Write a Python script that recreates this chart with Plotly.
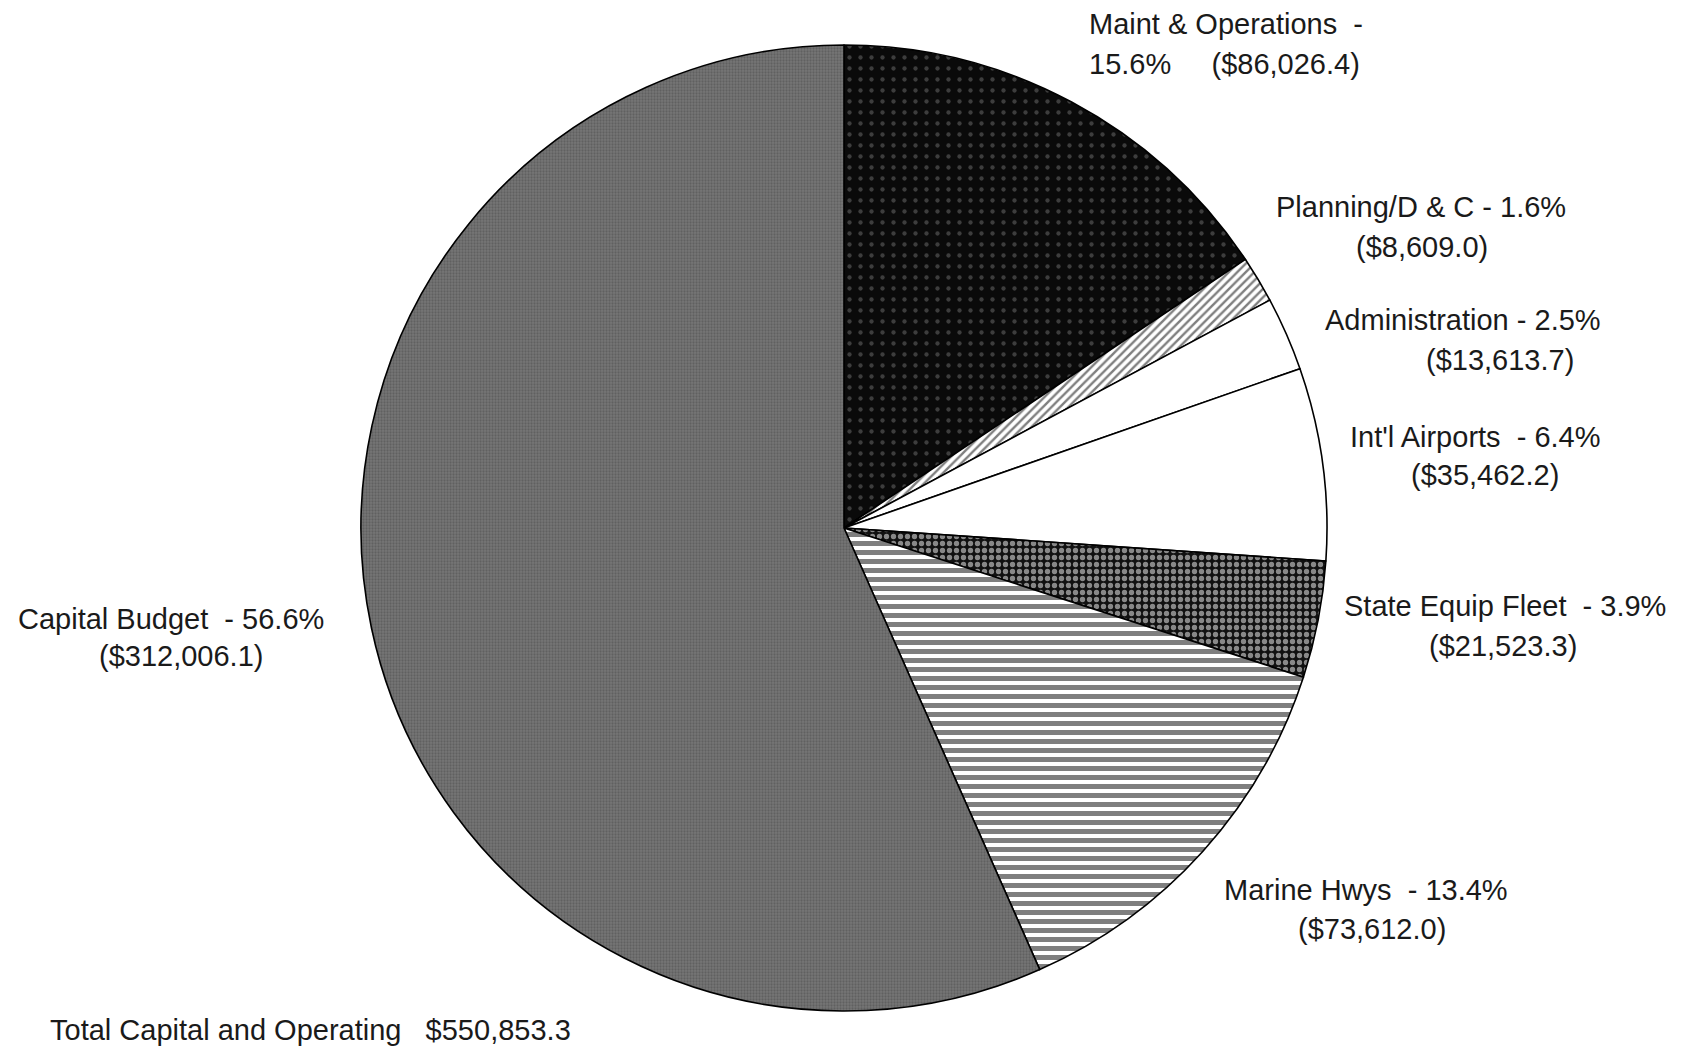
import plotly.graph_objects as go

# ---- data ----
categories = ["Maint & Operations", "Planning/D & C", "Administration",
              "Int'l Airports", "State Equip Fleet", "Marine Hwys", "Capital Budget"]
values = [86026.4, 8609.0, 13613.7, 35462.2, 21523.3, 73612.0, 312006.1]
percents = ["15.6%", "1.6%", "2.5%", "6.4%", "3.9%", "13.4%", "56.6%"]
amounts = ["($86,026.4)", "($8,609.0)", "($13,613.7)", "($35,462.2)",
           "($21,523.3)", "($73,612.0)", "($312,006.1)"]
total_label = "Total Capital and Operating\u00a0\u00a0 $550,853.3"

W, H = 1683, 1049

# slice styling
bgcolors = ["#0a0a0a", "white", "white", "white", "#111111", "white", "#767676"]
fgcolors = ["#707070", "black", "white", "white", "white", "black", "#4a4a4a"]
shapes = [".", "/", "", "", ".", "-", "."]
psizes = [11, 6, 8, 8, 7, 9, 3]
psolid = [0.12, 0.4, 0.3, 0.3, 0.45, 0.55, 0.45]

# pie geometry (pixels)
cx, cy, r = 836, 520, 483

fig = go.Figure(go.Pie(
    labels=categories,
    values=values,
    sort=False,
    direction="clockwise",
    rotation=0,
    textinfo="none",
    hoverinfo="label+value+percent",
    showlegend=False,
    marker=dict(
        colors=bgcolors,
        line=dict(color="black", width=1.6),
        pattern=dict(shape=shapes, fgcolor=fgcolors, bgcolor=bgcolors,
                     size=psizes, solidity=psolid, fillmode="overlay"),
    ),
    domain=dict(x=[(cx - r) / W, (cx + r) / W], y=[(H - cy - r) / H, (H - cy + r) / H]),
))

font = dict(family="Liberation Sans, Arial, sans-serif", size=29, color="#1a1a1a")

def ann(text, px, py, anchor="center"):
    fig.add_annotation(text=text, x=(px - 8) / W, y=1 - (py - 8) / H, xref="paper", yref="paper",
                       xanchor=anchor, yanchor="middle", showarrow=False, font=font)

sp = "\u00a0"
# Maint & Operations (left-aligned two lines)
ann(categories[0] + sp * 2 + "-", 1087, 24, "left")
ann(percents[0] + sp * 5 + amounts[0], 1087, 64, "left")
# Planning
ann(categories[1] + " - " + percents[1], 1421, 207)
ann(amounts[1], 1422, 247)
# Administration
ann(categories[2] + " - " + percents[2], 1463, 320)
ann(amounts[2], 1500, 360)
# Int'l Airports
ann(categories[3] + sp * 2 + "- " + percents[3], 1475, 437)
ann(amounts[3], 1485, 475)
# State Equip Fleet
ann(categories[4] + sp * 2 + "- " + percents[4], 1505, 606)
ann(amounts[4], 1503, 646)
# Marine Hwys
ann(categories[5] + sp * 2 + "- " + percents[5], 1366, 890)
ann(amounts[5], 1372, 929)
# Capital Budget
ann(categories[6] + sp * 2 + "- " + percents[6], 171, 619)
ann(amounts[6], 181, 656)
# Total
ann(total_label, 48, 1030, "left")

fig.update_layout(
    width=W, height=H,
    margin=dict(l=0, r=0, t=0, b=0),
    paper_bgcolor="white", plot_bgcolor="white",
)

fig.write_html("out.html")
